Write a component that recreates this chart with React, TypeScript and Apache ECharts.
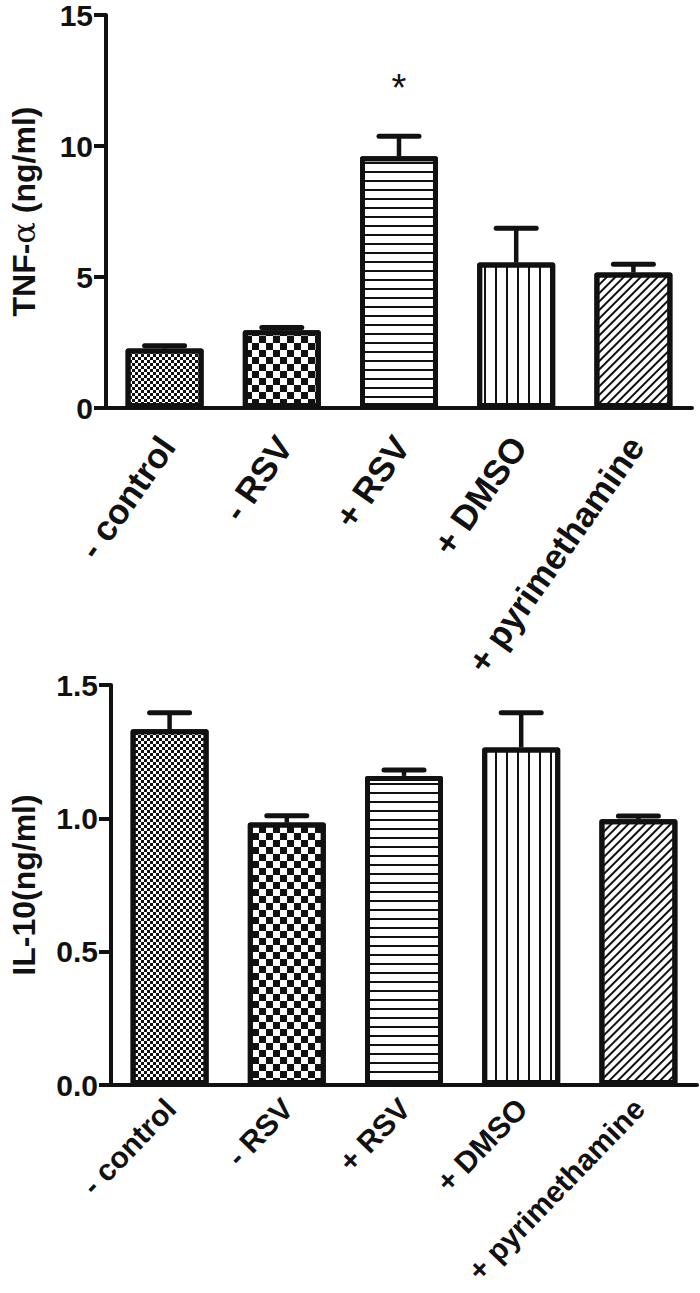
import React, { useEffect, useRef } from "react";
import * as echarts from "echarts";

const categories = ["- control", "- RSV", "+ RSV", "+ DMSO", "+ pyrimethamine"];

const tnfMean = [2.27, 2.97, 9.61, 5.55, 5.17];
const tnfSem = [0.11, 0.1, 0.76, 1.31, 0.32];
const tnfSig = ["", "", "*", "", ""];
const tnfTicks = { min: 0, max: 15, interval: 5 };

const il10Mean = [1.334, 0.984, 1.159, 1.266, 0.997];
const il10Sem = [0.062, 0.026, 0.022, 0.13, 0.012];
const il10Sig = ["", "", "", "", ""];
const il10Ticks = { min: 0, max: 1.5, interval: 0.5 };

const INK = "#111";
const FONT = "'Liberation Sans', Arial, Helvetica, sans-serif";

// per-panel label styling (angle in degrees, font size, offset from tick/axis)
const labelStyle = [
  { angle: 55, size: 35, dx: -12, dy: 22 },
  { angle: 46, size: 30, dx: -10, dy: 8 },
];

const decals: any[] = [
  { symbol: "rect", symbolSize: 1, dashArrayX: [[3, 3], [0, 3, 3, 0]], dashArrayY: [3, 0], color: INK, backgroundColor: "#fff" },
  { symbol: "rect", symbolSize: 1, dashArrayX: [[7, 7], [0, 7, 7, 0]], dashArrayY: [7, 0], color: INK, backgroundColor: "#fff" },
  { symbol: "rect", symbolSize: 1, dashArrayX: [1, 0], dashArrayY: [1.6, 6.7], color: INK, backgroundColor: "#fff" },
  { symbol: "rect", symbolSize: 1, dashArrayX: [1.6, 8.4], dashArrayY: [1, 0], color: INK, backgroundColor: "#fff" },
  { symbol: "rect", symbolSize: 1, dashArrayX: [1, 0], dashArrayY: [1.3, 3.6], rotation: -Math.PI / 4, color: INK, backgroundColor: "#fff" },
];

function errorSeries(means: number[], sems: number[], sig: string[], idx: number) {
  return {
    type: "custom",
    xAxisIndex: idx,
    yAxisIndex: idx,
    z: 5,
    data: means.map((m, i) => [i, m, sems[i]]),
    renderItem: (params: any, api: any) => {
      const i = api.value(0);
      const m = api.value(1);
      const e = api.value(2);
      const base = api.coord([i, m]);
      const top = api.coord([i, m + e]);
      const children: any[] = [
        { type: "line", shape: { x1: base[0], y1: base[1], x2: top[0], y2: top[1] }, style: { stroke: INK, lineWidth: 4.5 } },
        { type: "line", shape: { x1: top[0] - 20, y1: top[1], x2: top[0] + 20, y2: top[1] }, style: { stroke: INK, lineWidth: 5, lineCap: "round" } },
      ];
      const s = sig[params.dataIndex];
      if (s) {
        children.push({
          type: "text",
          style: { text: s, x: top[0], y: top[1] - 48, align: "center", verticalAlign: "middle", fontSize: 38, fontFamily: FONT, fill: INK },
        });
      }
      return { type: "group", children };
    },
  };
}

function barSeries(means: number[], idx: number) {
  return {
    type: "bar",
    xAxisIndex: idx,
    yAxisIndex: idx,
    barWidth: 78,
    z: 3,
    itemStyle: { color: "#fff", borderColor: INK, borderWidth: 5, borderJoin: "round" },
    data: means.map((v, i) => ({ value: v, itemStyle: { decal: decals[i] } })),
  };
}

function xAxisOf(idx: number) {
  return {
    type: "category",
    gridIndex: idx,
    data: categories,
    axisLine: { lineStyle: { color: INK, width: 4 } },
    axisTick: { alignWithLabel: true, length: 13, lineStyle: { color: INK, width: 4 } },
    axisLabel: { show: false },
  };
}

function yAxisOf(idx: number, ticks: any, name: string, nameGap: number, decimals: number) {
  return {
    type: "value",
    gridIndex: idx,
    min: ticks.min,
    max: ticks.max,
    interval: ticks.interval,
    name,
    nameLocation: "middle",
    nameGap,
    nameTextStyle: {
      fontSize: 32,
      fontWeight: "bold",
      fontFamily: FONT,
      color: INK,
      rich: { a: { fontSize: 32, fontWeight: "normal", fontFamily: "'DejaVu Serif', serif", color: INK } },
    },
    axisLine: { show: true, lineStyle: { color: INK, width: 4 } },
    axisTick: { show: true, length: 12, lineStyle: { color: INK, width: 4 } },
    splitLine: { show: false },
    axisLabel: {
      margin: 13,
      fontSize: 30,
      fontWeight: "bold",
      fontFamily: FONT,
      color: INK,
      formatter: (v: number) => v.toFixed(decimals),
    },
  };
}

export default function App() {
  const ref = useRef<HTMLDivElement>(null);
  useEffect(() => {
    if (!ref.current) return;
    const chart = echarts.init(ref.current, null, { renderer: "svg" });
    chart.setOption({
      animation: false,
      backgroundColor: "#fff",
      grid: [
        { left: 94, top: 11, width: 598, height: 397, containLabel: false },
        { left: 99, top: 685, width: 598, height: 400, containLabel: false },
      ],
      xAxis: [xAxisOf(0), xAxisOf(1)],
      yAxis: [
        yAxisOf(0, tnfTicks, "TNF-{a|α} (ng/ml)", 66, 0),
        yAxisOf(1, il10Ticks, "IL-10(ng/ml)", 71, 1),
      ],
      series: [
        barSeries(tnfMean, 0),
        errorSeries(tnfMean, tnfSem, tnfSig, 0),
        barSeries(il10Mean, 1),
        errorSeries(il10Mean, il10Sem, il10Sig, 1),
      ],
    });

    // Rotated category labels positioned from the axes' own scales
    const labels: any[] = [];
    [0, 1].forEach((g) => {
      const st = labelStyle[g];
      const baseY = chart.convertToPixel({ yAxisIndex: g } as any, 0) as number;
      categories.forEach((c, i) => {
        const px = chart.convertToPixel({ xAxisIndex: g } as any, i) as number;
        labels.push({
          type: "text",
          x: px + st.dx,
          y: baseY + st.dy,
          rotation: (st.angle * Math.PI) / 180,
          style: {
            text: c,
            align: "right",
            verticalAlign: "top",
            fontSize: st.size,
            fontWeight: "bold",
            fontFamily: FONT,
            fill: INK,
          },
        });
      });
    });
    chart.setOption({ graphic: labels });
    return () => chart.dispose();
  }, []);
  return (
    <div
      ref={ref}
      style={{ position: "fixed", left: 0, top: 0, width: 700, height: 1293, background: "#fff" }}
    />
  );
}
